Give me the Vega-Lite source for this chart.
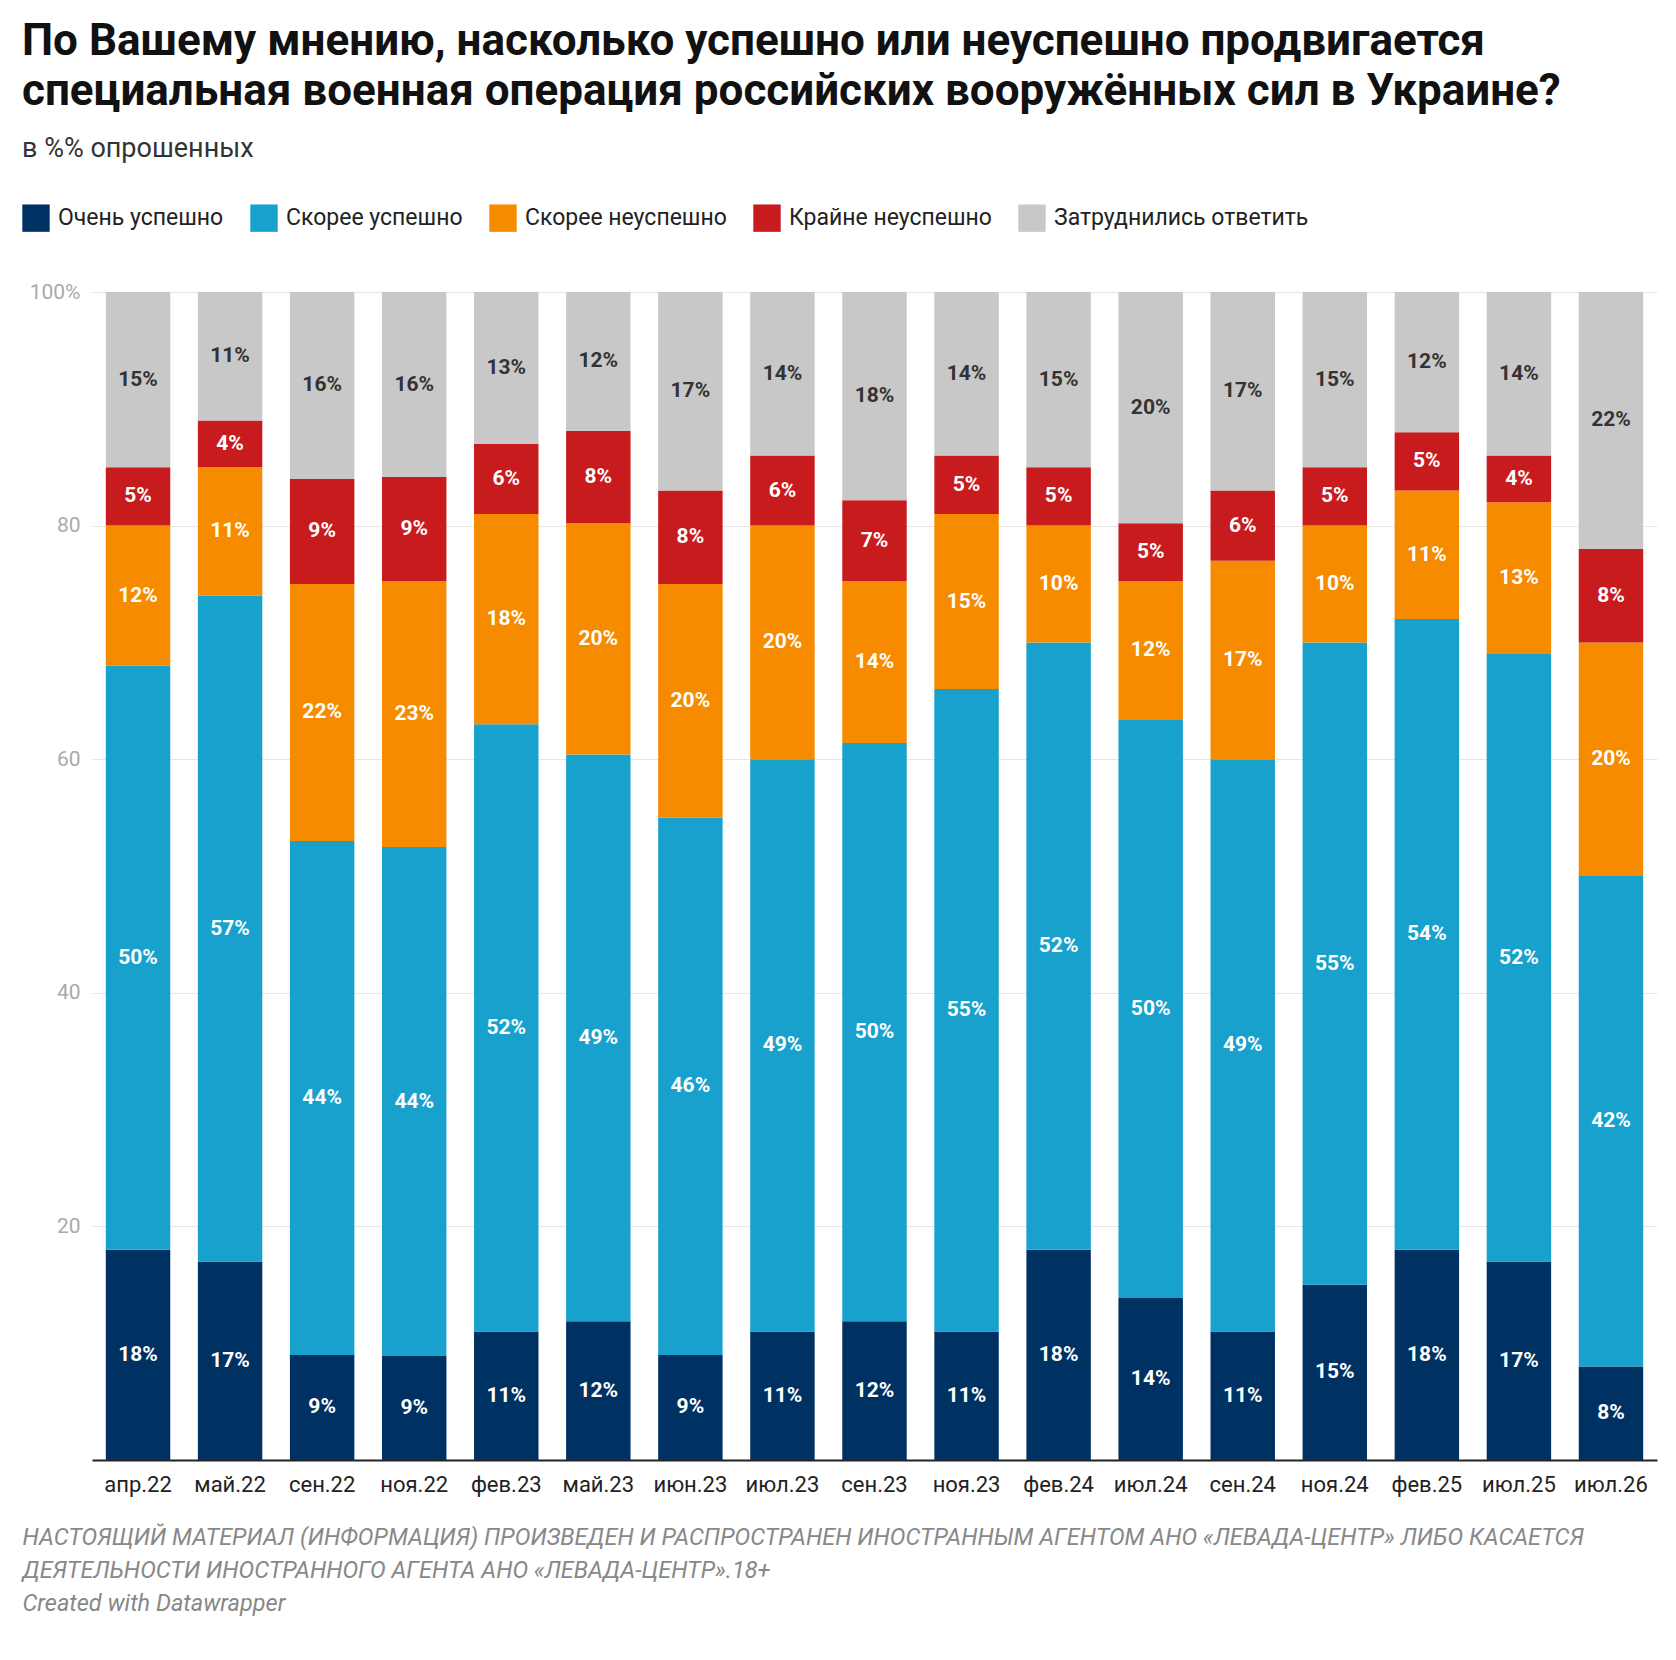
{
  "$schema": "https://vega.github.io/schema/vega-lite/v6.json",
  "width": 1565,
  "height": 1168,
  "padding": {"left": 22, "top": 20, "right": 18, "bottom": 4},
  "background": "white",
  "title": {
    "text": ["По Вашему мнению, насколько успешно или неуспешно продвигается", "специальная военная операция российских вооружённых сил в Украине?"],
    "subtitle": "в %% опрошенных",
    "anchor": "start",
    "frame": "group",
    "offset": 42,
    "font": "Roboto",
    "fontSize": 44,
    "fontWeight": "bold",
    "color": "#111",
    "lineHeight": 50,
    "subtitleFont": "Roboto",
    "subtitleFontSize": 27,
    "subtitleColor": "#333",
    "subtitlePadding": 22,
    "dx": -70
  },
  "data": {
    "values": [
      {"m": "апр.22", "c": "Очень успешно", "v": 18, "o": 1}, {"m": "апр.22", "c": "Скорее успешно", "v": 50, "o": 2}, {"m": "апр.22", "c": "Скорее неуспешно", "v": 12, "o": 3}, {"m": "апр.22", "c": "Крайне неуспешно", "v": 5, "o": 4}, {"m": "апр.22", "c": "Затруднились ответить", "v": 15, "o": 5},
      {"m": "май.22", "c": "Очень успешно", "v": 17, "o": 1}, {"m": "май.22", "c": "Скорее успешно", "v": 57, "o": 2}, {"m": "май.22", "c": "Скорее неуспешно", "v": 11, "o": 3}, {"m": "май.22", "c": "Крайне неуспешно", "v": 4, "o": 4}, {"m": "май.22", "c": "Затруднились ответить", "v": 11, "o": 5},
      {"m": "сен.22", "c": "Очень успешно", "v": 9, "o": 1}, {"m": "сен.22", "c": "Скорее успешно", "v": 44, "o": 2}, {"m": "сен.22", "c": "Скорее неуспешно", "v": 22, "o": 3}, {"m": "сен.22", "c": "Крайне неуспешно", "v": 9, "o": 4}, {"m": "сен.22", "c": "Затруднились ответить", "v": 16, "o": 5},
      {"m": "ноя.22", "c": "Очень успешно", "v": 9, "o": 1}, {"m": "ноя.22", "c": "Скорее успешно", "v": 44, "o": 2}, {"m": "ноя.22", "c": "Скорее неуспешно", "v": 23, "o": 3}, {"m": "ноя.22", "c": "Крайне неуспешно", "v": 9, "o": 4}, {"m": "ноя.22", "c": "Затруднились ответить", "v": 16, "o": 5},
      {"m": "фев.23", "c": "Очень успешно", "v": 11, "o": 1}, {"m": "фев.23", "c": "Скорее успешно", "v": 52, "o": 2}, {"m": "фев.23", "c": "Скорее неуспешно", "v": 18, "o": 3}, {"m": "фев.23", "c": "Крайне неуспешно", "v": 6, "o": 4}, {"m": "фев.23", "c": "Затруднились ответить", "v": 13, "o": 5},
      {"m": "май.23", "c": "Очень успешно", "v": 12, "o": 1}, {"m": "май.23", "c": "Скорее успешно", "v": 49, "o": 2}, {"m": "май.23", "c": "Скорее неуспешно", "v": 20, "o": 3}, {"m": "май.23", "c": "Крайне неуспешно", "v": 8, "o": 4}, {"m": "май.23", "c": "Затруднились ответить", "v": 12, "o": 5},
      {"m": "июн.23", "c": "Очень успешно", "v": 9, "o": 1}, {"m": "июн.23", "c": "Скорее успешно", "v": 46, "o": 2}, {"m": "июн.23", "c": "Скорее неуспешно", "v": 20, "o": 3}, {"m": "июн.23", "c": "Крайне неуспешно", "v": 8, "o": 4}, {"m": "июн.23", "c": "Затруднились ответить", "v": 17, "o": 5},
      {"m": "июл.23", "c": "Очень успешно", "v": 11, "o": 1}, {"m": "июл.23", "c": "Скорее успешно", "v": 49, "o": 2}, {"m": "июл.23", "c": "Скорее неуспешно", "v": 20, "o": 3}, {"m": "июл.23", "c": "Крайне неуспешно", "v": 6, "o": 4}, {"m": "июл.23", "c": "Затруднились ответить", "v": 14, "o": 5},
      {"m": "сен.23", "c": "Очень успешно", "v": 12, "o": 1}, {"m": "сен.23", "c": "Скорее успешно", "v": 50, "o": 2}, {"m": "сен.23", "c": "Скорее неуспешно", "v": 14, "o": 3}, {"m": "сен.23", "c": "Крайне неуспешно", "v": 7, "o": 4}, {"m": "сен.23", "c": "Затруднились ответить", "v": 18, "o": 5},
      {"m": "ноя.23", "c": "Очень успешно", "v": 11, "o": 1}, {"m": "ноя.23", "c": "Скорее успешно", "v": 55, "o": 2}, {"m": "ноя.23", "c": "Скорее неуспешно", "v": 15, "o": 3}, {"m": "ноя.23", "c": "Крайне неуспешно", "v": 5, "o": 4}, {"m": "ноя.23", "c": "Затруднились ответить", "v": 14, "o": 5},
      {"m": "фев.24", "c": "Очень успешно", "v": 18, "o": 1}, {"m": "фев.24", "c": "Скорее успешно", "v": 52, "o": 2}, {"m": "фев.24", "c": "Скорее неуспешно", "v": 10, "o": 3}, {"m": "фев.24", "c": "Крайне неуспешно", "v": 5, "o": 4}, {"m": "фев.24", "c": "Затруднились ответить", "v": 15, "o": 5},
      {"m": "июл.24", "c": "Очень успешно", "v": 14, "o": 1}, {"m": "июл.24", "c": "Скорее успешно", "v": 50, "o": 2}, {"m": "июл.24", "c": "Скорее неуспешно", "v": 12, "o": 3}, {"m": "июл.24", "c": "Крайне неуспешно", "v": 5, "o": 4}, {"m": "июл.24", "c": "Затруднились ответить", "v": 20, "o": 5},
      {"m": "сен.24", "c": "Очень успешно", "v": 11, "o": 1}, {"m": "сен.24", "c": "Скорее успешно", "v": 49, "o": 2}, {"m": "сен.24", "c": "Скорее неуспешно", "v": 17, "o": 3}, {"m": "сен.24", "c": "Крайне неуспешно", "v": 6, "o": 4}, {"m": "сен.24", "c": "Затруднились ответить", "v": 17, "o": 5},
      {"m": "ноя.24", "c": "Очень успешно", "v": 15, "o": 1}, {"m": "ноя.24", "c": "Скорее успешно", "v": 55, "o": 2}, {"m": "ноя.24", "c": "Скорее неуспешно", "v": 10, "o": 3}, {"m": "ноя.24", "c": "Крайне неуспешно", "v": 5, "o": 4}, {"m": "ноя.24", "c": "Затруднились ответить", "v": 15, "o": 5},
      {"m": "фев.25", "c": "Очень успешно", "v": 18, "o": 1}, {"m": "фев.25", "c": "Скорее успешно", "v": 54, "o": 2}, {"m": "фев.25", "c": "Скорее неуспешно", "v": 11, "o": 3}, {"m": "фев.25", "c": "Крайне неуспешно", "v": 5, "o": 4}, {"m": "фев.25", "c": "Затруднились ответить", "v": 12, "o": 5},
      {"m": "июл.25", "c": "Очень успешно", "v": 17, "o": 1}, {"m": "июл.25", "c": "Скорее успешно", "v": 52, "o": 2}, {"m": "июл.25", "c": "Скорее неуспешно", "v": 13, "o": 3}, {"m": "июл.25", "c": "Крайне неуспешно", "v": 4, "o": 4}, {"m": "июл.25", "c": "Затруднились ответить", "v": 14, "o": 5},
      {"m": "июл.26", "c": "Очень успешно", "v": 8, "o": 1}, {"m": "июл.26", "c": "Скорее успешно", "v": 42, "o": 2}, {"m": "июл.26", "c": "Скорее неуспешно", "v": 20, "o": 3}, {"m": "июл.26", "c": "Крайне неуспешно", "v": 8, "o": 4}, {"m": "июл.26", "c": "Затруднились ответить", "v": 22, "o": 5}
    ]
  },
  "transform": [
    {"stack": "v", "groupby": ["m"], "sort": [{"field": "o", "order": "ascending"}], "offset": "normalize", "as": ["y0", "y1"]},
    {"calculate": "(datum.y0 + datum.y1) / 2", "as": "ym"},
    {"calculate": "datum.v + '%'", "as": "lab"}
  ],
  "encoding": {
    "x": {
      "field": "m", "type": "nominal", "sort": null,
      "scale": {"paddingInner": 0.3, "paddingOuter": 0.15},
      "axis": {
        "labelAngle": 0, "labelFontSize": 22, "labelColor": "#222", "labelFont": "Roboto", "labelPadding": 14,
        "ticks": false, "domainColor": "#222", "domainWidth": 2,
        "title": ["НАСТОЯЩИЙ МАТЕРИАЛ (ИНФОРМАЦИЯ) ПРОИЗВЕДЕН И РАСПРОСТРАНЕН ИНОСТРАННЫМ АГЕНТОМ АНО «ЛЕВАДА-ЦЕНТР» ЛИБО КАСАЕТСЯ", "ДЕЯТЕЛЬНОСТИ ИНОСТРАННОГО АГЕНТА АНО «ЛЕВАДА-ЦЕНТР».18+", "Created with Datawrapper"],
        "titleFont": "Roboto", "titleFontSize": 23.5, "titleFontStyle": "italic", "titleFontWeight": "normal", "titleColor": "#888",
        "titleAnchor": "start", "titleAlign": "left", "titleX": -70, "titlePadding": 30, "titleLineHeight": 33
      }
    }
  },
  "layer": [
    {
      "mark": {"type": "bar"},
      "encoding": {
        "y": {
          "field": "y0", "type": "quantitative", "scale": {"domain": [0, 1]},
          "axis": {
            "values": [0.2, 0.4, 0.6, 0.8, 1], "labelExpr": "datum.value == 1 ? '100%' : format(datum.value * 100, 'd')",
            "labelFontSize": 21, "labelColor": "#aaa", "labelFont": "Roboto", "ticks": false, "domain": false,
            "gridColor": "#e6e6e6", "labelPadding": 12, "title": null
          }
        },
        "y2": {"field": "y1"},
        "color": {
          "field": "c", "type": "nominal",
          "scale": {
            "domain": ["Очень успешно", "Скорее успешно", "Скорее неуспешно", "Крайне неуспешно", "Затруднились ответить"],
            "range": ["#003163", "#18a1cd", "#f68b00", "#c71b1e", "#c8c8c8"]
          },
          "legend": {
            "orient": "none", "legendX": -70, "legendY": -88, "direction": "horizontal", "title": null, "symbolType": "square", "symbolSize": 750,
            "symbolStrokeWidth": 0, "labelFontSize": 23, "labelFont": "Roboto", "labelColor": "#222", "columnPadding": 26,
            "labelLimit": 0, "symbolOpacity": 1, "labelOffset": 8
          }
        }
      }
    },
    {
      "mark": {"type": "text", "font": "Roboto", "fontSize": 21, "fontWeight": "bold"},
      "encoding": {
        "y": {"field": "ym", "type": "quantitative"},
        "text": {"field": "lab"},
        "color": {"condition": {"test": "datum.o == 5", "value": "#333"}, "value": "white"}
      }
    }
  ],
  "config": {"view": {"stroke": null}, "font": "Roboto"}
}
